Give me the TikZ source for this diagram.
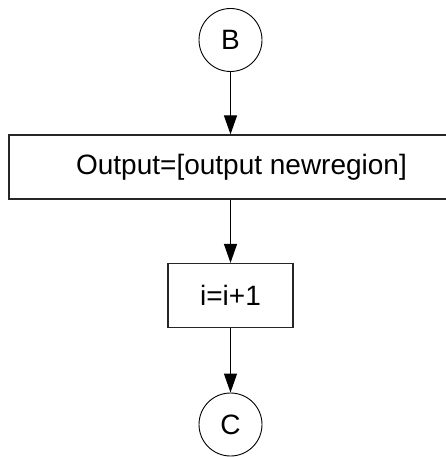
\documentclass[tikz,border=0pt]{standalone}
\usepackage{fontspec}
\setmainfont{Liberation Sans}
\usetikzlibrary{arrows.meta}
\begin{document}
\begin{tikzpicture}[x=1pt,y=-1pt,
  conn/.style={circle,draw=black,line width=0.9pt,minimum size=63pt,inner sep=0pt,font=\fontsize{28}{33}\selectfont},
  procbox/.style={rectangle,draw=black!85,line width=1.2pt,inner sep=0pt,font=\fontsize{28}{33}\selectfont},
  flow/.style={draw=black,line width=1.2pt,-{Triangle[length=19pt,width=13pt]}}]
\useasboundingbox (0,0) rectangle (446,457);
\node[conn] (B) at (230.5,40) {B};
\node[procbox,minimum width=465pt,minimum height=64pt] (out) at (241.5,167) {Output=[output newregion]};
\node[procbox,minimum width=125pt,minimum height=64pt] (inc) at (230.5,295.5) {i=i+1};
\node[conn] (C) at (230.5,424.5) {C};
\draw[flow] (B.south) -- (B.south |- out.north);
\draw[flow] (inc.north |- out.south) -- (inc.north);
\draw[flow] (inc.south) -- (C.north);
\end{tikzpicture}
\end{document}
